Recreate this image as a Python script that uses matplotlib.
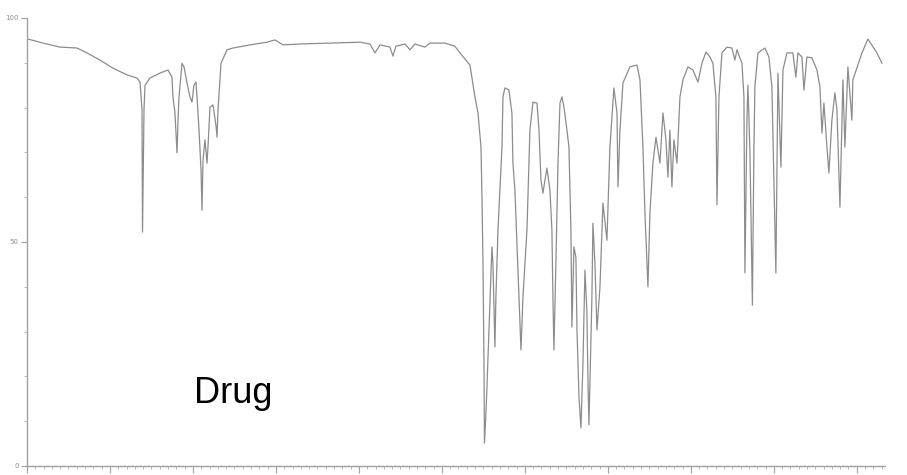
import matplotlib
matplotlib.use("Agg")
import matplotlib.pyplot as plt
from matplotlib.ticker import MultipleLocator

# Scan position (arbitrary units, unlabeled axis) and % transmittance
position = [
    1.2, 19.3, 39.8, 60.3, 72.3, 88.0, 103.6, 120.5, 132.6, 136.2,
    138.6, 139.2, 141.0, 142.2, 148.2, 160.3, 169.9, 174.7, 175.9, 178.3,
    180.8, 182.0, 183.2, 186.8, 189.2, 192.8, 196.4, 198.8, 201.2, 203.6,
    204.9, 207.3, 209.7, 210.9, 212.1, 214.5, 216.9, 218.1, 220.5, 224.1,
    227.7, 229.0, 230.2, 233.8, 241.0, 248.2, 268.7, 289.2, 298.8, 308.5,
    329.0, 365.1, 401.3, 413.3, 419.3, 425.4, 437.4, 441.0, 444.6, 455.5,
    461.5, 467.5, 479.6, 485.6, 503.7, 515.7, 521.8, 533.8, 539.8, 543.5,
    547.1, 548.3, 549.5, 550.7, 551.3, 553.1, 554.3, 556.7, 560.3, 561.5,
    563.9, 565.1, 567.6, 572.4, 573.6, 576.0, 580.8, 584.4, 585.6, 588.0,
    589.2, 590.5, 592.9, 595.3, 597.7, 602.5, 606.1, 609.7, 614.6, 617.0,
    619.4, 621.8, 624.2, 626.6, 630.2, 632.6, 633.8, 635.0, 637.4, 639.9,
    642.3, 644.7, 647.1, 650.7, 653.1, 655.5, 656.7, 659.1, 661.5, 662.8,
    665.2, 667.6, 670.0, 672.4, 674.8, 676.0, 677.2, 680.8, 682.0, 684.4,
    686.9, 690.5, 694.1, 698.9, 702.5, 707.3, 711.0, 712.2, 714.6, 718.2,
    726.6, 735.1, 738.7, 742.3, 744.7, 748.3, 750.7, 754.3, 758.0, 760.4,
    762.8, 766.4, 770.0, 772.4, 774.8, 777.2, 779.6, 783.3, 786.9, 790.5,
    796.5, 802.5, 808.6, 813.4, 818.2, 823.0, 826.6, 830.2, 831.5, 833.9,
    837.5, 843.5, 849.5, 853.1, 855.6, 861.6, 864.0, 865.2, 867.6, 868.8,
    871.2, 874.2, 876.0, 877.2, 880.9, 889.3, 894.1, 897.7, 902.5, 905.0,
    908.6, 911.0, 915.8, 923.0, 926.6, 929.1, 933.9, 936.3, 939.9, 945.9,
    952.0, 955.6, 958.0, 960.4, 964.0, 966.4, 970.0, 973.6, 976.1, 979.7,
    983.3, 985.7, 989.3, 994.1, 995.3, 1006.2, 1013.4, 1024.3, 1030.3,
]
transmittance = [
    95.3, 94.4, 93.5, 93.3, 92.2, 90.6, 88.8, 87.3, 86.6, 85.7,
    79.5, 52.2, 79.5, 85.0, 86.6, 87.7, 88.4, 86.8, 82.4, 78.8,
    69.9, 77.2, 82.4, 89.9, 89.1, 85.5, 82.4, 81.2, 85.0, 85.7,
    82.4, 75.0, 66.1, 57.1, 68.3, 72.8, 67.6, 71.2, 80.1, 80.6,
    76.1, 73.4, 79.5, 89.9, 92.9, 93.3, 94.0, 94.6, 95.1, 94.0,
    94.2, 94.4, 94.6, 94.2, 92.2, 94.0, 93.5, 91.5, 93.7, 94.2,
    92.9, 94.2, 93.5, 94.4, 94.4, 93.7, 92.2, 89.5, 82.4, 78.8,
    71.2, 60.0, 45.3, 23.0, 5.1, 11.8, 17.6, 30.4, 48.9, 45.3,
    26.6, 37.7, 52.7, 71.2, 82.4, 84.4, 83.9, 78.8, 67.6, 61.6,
    55.6, 48.9, 37.7, 25.9, 37.7, 52.7, 75.0, 81.2, 81.0, 75.0,
    63.8, 60.9, 63.8, 66.5, 61.6, 52.7, 37.7, 25.9, 45.3, 67.6,
    81.0, 82.4, 80.1, 75.0, 71.2, 52.7, 31.0, 48.9, 46.6, 30.4,
    15.4, 8.5, 23.0, 43.7, 34.1, 19.2, 9.2, 37.7, 54.2, 45.3,
    30.4, 40.0, 58.7, 50.4, 71.2, 84.4, 78.8, 62.3, 75.0, 85.5,
    89.1, 89.5, 86.2, 71.2, 56.5, 40.0, 56.5, 67.6, 73.4, 70.5,
    67.6, 78.8, 72.8, 64.5, 75.0, 62.3, 72.8, 67.6, 82.4, 86.2,
    89.1, 88.4, 85.7, 89.9, 92.4, 91.3, 89.9, 82.4, 58.3, 82.4,
    92.2, 93.5, 93.3, 90.6, 92.9, 89.9, 82.4, 43.1, 77.2, 85.0,
    70.5, 35.9, 70.5, 84.6, 92.2, 93.3, 91.3, 84.6, 43.1, 87.7,
    66.7, 88.4, 92.2, 92.2, 86.8, 92.2, 91.3, 83.9, 91.3, 91.1,
    88.4, 84.6, 74.3, 81.0, 71.2, 65.4, 77.2, 83.3, 79.5, 57.8,
    86.2, 71.2, 89.1, 77.2, 86.2, 92.2, 95.3, 92.2, 89.9,
]
y_ticks = [0, 50, 100]
y_tick_labels = ["0", "50", "100"]
label_text = "Drug"

fig = plt.figure(figsize=(9.07, 4.75), dpi=100)
ax = fig.add_axes([27 / 907, 1 - 466 / 475, (885 - 27) / 907, (466 - 18) / 475])

ax.plot(position, transmittance, color="#8c8c8c", linewidth=0.9)

ax.set_xlim(0, 1034)
ax.set_ylim(0, 100)

for s in ["top", "right"]:
    ax.spines[s].set_visible(False)
for s in ["left", "bottom"]:
    ax.spines[s].set_color("#a0a0a0")
    ax.spines[s].set_linewidth(1.0)

ax.xaxis.set_major_locator(MultipleLocator(100))
ax.xaxis.set_minor_locator(MultipleLocator(10))
ax.set_xticklabels([])
ax.set_yticks(y_ticks)
ax.set_yticklabels(y_tick_labels)
ax.yaxis.set_minor_locator(MultipleLocator(10))
ax.tick_params(axis="x", which="major", length=5, width=0.8, color="#a0a0a0")
ax.tick_params(axis="x", which="minor", length=2, width=0.6, color="#b0b0b0")
ax.tick_params(axis="y", which="major", length=4, width=0.8, color="#a0a0a0",
               labelsize=5, labelcolor="#909090", pad=2)
ax.tick_params(axis="y", which="minor", length=2.5, width=0.6, color="#b0b0b0")

ax.text(249, 14.1, label_text, fontsize=26, family=["Liberation Sans", "DejaVu Sans"],
        ha="center", va="baseline", color="black")

fig.savefig("out.png", dpi=100)
